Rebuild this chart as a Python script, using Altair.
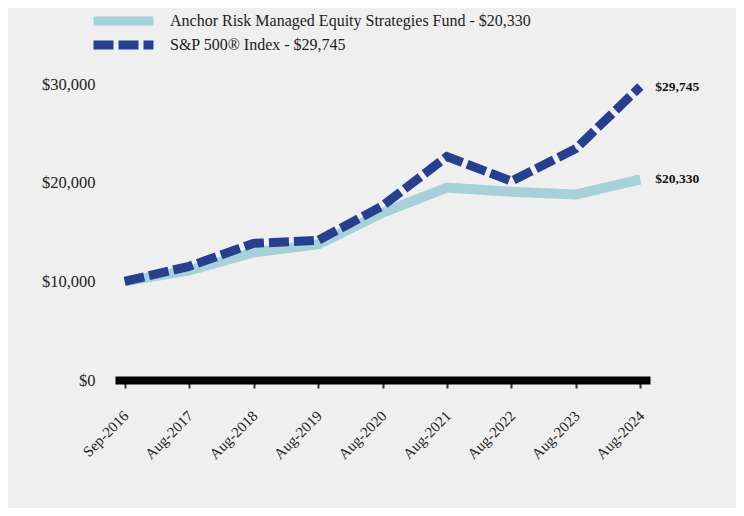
import altair as alt
import pandas as pd

dates = ["Sep-2016", "Aug-2017", "Aug-2018", "Aug-2019", "Aug-2020",
         "Aug-2021", "Aug-2022", "Aug-2023", "Aug-2024"]
fund = [10000, 11100, 12930, 13750, 16950, 19500, 19080, 18800, 20330]
sp500 = [10000, 11520, 13850, 14150, 17650, 22650, 20150, 23450, 29745]
series = ["Anchor Risk Managed Equity Strategies Fund - $20,330",
          "S&P 500\u00ae Index - $29,745"]
colors = ["#a7d1d8", "#26408f"]

rows = []
for i, d in enumerate(dates):
    rows.append({"date": d, "idx": i, "series": series[0], "value": fund[i]})
    rows.append({"date": d, "idx": i, "series": series[1], "value": sp500[i]})
df = pd.DataFrame(rows)

FONT = "Liberation Serif"

x = alt.X("date:O", sort=dates, title=None,
          scale=alt.Scale(type="point", padding=0.15),
          axis=alt.Axis(labelAngle=315, labelFont=FONT, labelFontSize=15,
                        labelColor="#222222", domainColor="#000000",
                        domainWidth=8, tickColor="#333333", tickWidth=2,
                        tickSize=8, labelPadding=20, labelOffset=-4))
y = alt.Y("value:Q", title=None,
          scale=alt.Scale(domain=[0, 30000], nice=False),
          axis=alt.Axis(values=[0, 10000, 20000, 30000], format="$,.0f",
                        domain=False, ticks=False, grid=False,
                        labelFont=FONT, labelFontSize=16.5,
                        labelColor="#222222", labelPadding=20))

leg = dict(title=None, orient="none", legendX=-26, legendY=-73,
           labelFont=FONT, labelFontSize=16, labelColor="#222222",
           labelLimit=0, symbolSize=3600, symbolStrokeWidth=9,
           symbolType="stroke", labelOffset=12, rowPadding=4, clipHeight=20)
color = alt.Color("series:N", sort=series,
                  scale=alt.Scale(domain=series, range=colors),
                  legend=alt.Legend(**leg))
dash = alt.StrokeDash("series:N", sort=series,
                      scale=alt.Scale(domain=series, range=[[1, 0], [20, 5]]),
                      legend=alt.Legend(**leg))

base = alt.Chart(df)
fund_line = base.transform_filter(alt.datum.series == series[0]).mark_line(
    strokeWidth=10, strokeCap="butt", strokeJoin="miter").encode(
    x=x, y=y, color=color, strokeDash=dash)
sp_line = base.transform_filter(alt.datum.series == series[1]).mark_line(
    strokeWidth=9, strokeCap="butt", strokeJoin="miter").encode(
    x=x, y=y, color=color, strokeDash=dash)
labels = base.transform_filter(alt.datum.idx == len(dates) - 1).mark_text(
    align="left", dx=15, dy=0, font=FONT, fontSize=13.5, fontWeight="bold",
    color="#111111").encode(
    x=alt.X("date:O", sort=dates), y="value:Q",
    text=alt.Text("value:Q", format="$,.0f"))

chart = alt.layer(fund_line, sp_line, labels).properties(
    width=535, height=296,
    autosize=alt.AutoSizeParams(type="none"),
    padding={"left": 107, "top": 76, "right": 86, "bottom": 128},
    background="#efefef",
).configure_view(stroke=None)

chart.save("out.html", embed_options={"renderer": "svg", "actions": False})
